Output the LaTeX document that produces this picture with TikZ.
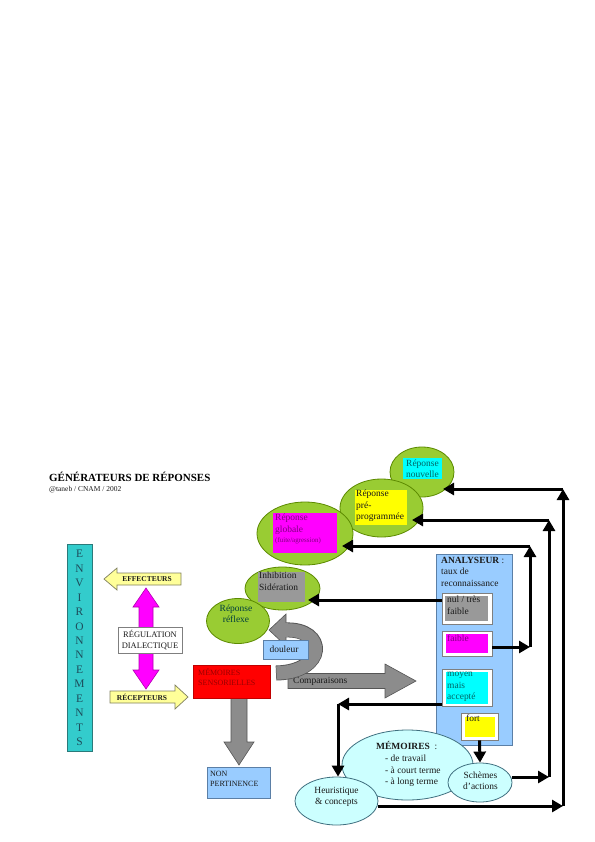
\documentclass[tikz,border=0pt]{standalone}
\usepackage{fontspec}
\setmainfont{Liberation Serif}
\usetikzlibrary{shapes.geometric,arrows.meta}
\definecolor{greenfill}{HTML}{99CC33}
\definecolor{greenborder}{HTML}{5C8A00}
\definecolor{lblue}{HTML}{99CCFF}
\definecolor{lblueborder}{HTML}{5B7FA6}
\definecolor{envfill}{HTML}{33CCCC}
\definecolor{envborder}{HTML}{2A7A7A}
\definecolor{envtext}{HTML}{1D4D5C}
\definecolor{yarrow}{HTML}{FFFF99}
\definecolor{yarrowborder}{HTML}{808060}
\definecolor{magentaf}{HTML}{FF00FF}
\definecolor{magentab}{HTML}{B000B0}
\definecolor{redf}{HTML}{FF0000}
\definecolor{redb}{HTML}{C00000}
\definecolor{redtext}{HTML}{990000}
\definecolor{garrow}{HTML}{8C8C8C}
\definecolor{garrowb}{HTML}{555555}
\definecolor{memfill}{HTML}{CCFFFF}
\definecolor{memborder}{HTML}{3F6F7F}
\definecolor{ginner}{HTML}{999999}
\definecolor{cyanf}{HTML}{00FFFF}
\definecolor{yellowf}{HTML}{FFFF00}
\definecolor{purpletext}{HTML}{800080}
\definecolor{tealtext}{HTML}{006666}
\definecolor{darktext}{HTML}{1A1A1A}
\definecolor{boxborder}{HTML}{7F7F7F}
\begin{document}
\begin{tikzpicture}[x=1bp,y=-1bp,
  txt/.style={inner sep=0pt, align=left, text=darktext, font=\fontsize{9.5}{11.5}\selectfont},
  ctxt/.style={txt, align=center},
  caps/.style={inner sep=0pt, align=left, font=\fontsize{8.5}{10.5}\selectfont},
  greenell/.style={ellipse, draw=greenborder, fill=greenfill, line width=0.8bp, inner sep=0pt},
  memell/.style={ellipse, draw=memborder, fill=memfill, line width=0.8bp, inner sep=0pt},
  panel/.style={rectangle, draw=lblueborder, fill=lblue, line width=0.8bp, inner sep=0pt},
  wbox/.style={rectangle, draw=boxborder, fill=white, line width=0.8bp, inner sep=0pt},
  inner/.style={rectangle, inner sep=0pt},
  conn/.style={line width=3bp, draw=black, -{Triangle[length=11bp,width=12bp]}},
  plain/.style={line width=3bp, draw=black}
]
\useasboundingbox (0,0) rectangle (595,842);
\fill[white] (0,0) rectangle (595,842);

% Title
\node[anchor=west, inner sep=0pt, font=\bfseries\fontsize{11}{13}\selectfont] (title) at (49,477) {GÉNÉRATEURS DE RÉPONSES};
\node[anchor=west, inner sep=0pt, text=darktext, font=\fontsize{7.5}{8}\selectfont] (sub) at (49,490) {@taneb / CNAM / 2002};

% Environnements
\node[rectangle, draw=envborder, fill=envfill, line width=0.8bp, minimum width=25bp, minimum height=207bp, inner sep=0pt] (env) at (79.5,647.5) {};
\node[inner sep=0pt, align=center, text=envtext, font=\fontsize{11.5}{14.5}\selectfont] (envtxt) at (79.5,648) {E\\N\\V\\I\\R\\O\\N\\N\\E\\M\\E\\N\\T\\S};

% Effecteurs arrow (left)
\draw[fill=yarrow, draw=yarrowborder, line width=0.7bp] (181,573) -- (117,573) -- (117,568) -- (104,579) -- (117,590) -- (117,585) -- (181,585) -- cycle;
\node[inner sep=0pt, font=\bfseries\fontsize{7.5}{9}\selectfont, text=darktext] (eff) at (147,579) {EFFECTEURS};

% Recepteurs arrow (right)
\draw[fill=yarrow, draw=yarrowborder, line width=0.7bp] (110,691) -- (175,691) -- (175,685) -- (188,697) -- (175,709) -- (175,703) -- (110,703) -- cycle;
\node[inner sep=0pt, font=\bfseries\fontsize{7.5}{9}\selectfont, text=darktext] (rec) at (142,697) {RÉCEPTEURS};

% Magenta double arrow
\draw[fill=magentaf, draw=magentab, line width=0.6bp] (146,588) -- (159,607) -- (153,607) -- (153,670) -- (159,670) -- (146,689) -- (133,670) -- (139,670) -- (139,607) -- (133,607) -- cycle;
\node[wbox, minimum width=64bp, minimum height=26bp] (regbox) at (150,640) {};
\node[caps, align=center, text=darktext] (reg) at (150,640) {RÉGULATION\\DIALECTIQUE};

% Gray down arrow
\draw[fill=garrow, draw=garrowb, line width=0.6bp] (231,698) -- (247,698) -- (247,742) -- (254,742) -- (239,765) -- (224,742) -- (231,742) -- cycle;

% Memoires sensorielles
\node[rectangle, fill=redf, draw=redb, line width=0.6bp, minimum width=77bp, minimum height=33bp, inner sep=0pt] (memsens) at (231.5,681.5) {};
\node[caps, anchor=north west, text=redtext, font=\fontsize{8}{10.5}\selectfont] (memsenstxt) at (198,668) {MÉMOIRES\\SENSORIELLES};

% Non pertinence
\node[rectangle, fill=lblue, draw=lblueborder, line width=0.7bp, minimum width=63bp, minimum height=31bp, inner sep=0pt] (nonp) at (238.5,782.5) {};
\node[caps, anchor=north west, text=darktext, font=\fontsize{8}{10}\selectfont] (nonptxt) at (210,771) {NON\\PERTINENCE};

% Comparaisons arrow
\draw[fill=garrow, draw=garrowb, line width=0.6bp] (288,673.5) -- (385,673.5) -- (385,664) -- (416,681) -- (385,698) -- (385,688.5) -- (288,688.5) -- cycle;
\node[txt, anchor=west] (comp) at (293,681) {Comparaisons};

% Green ellipses
\node[greenell, minimum width=64bp, minimum height=50bp] (nouvelle) at (422,472) {};
\node[inner, fill=cyanf, minimum width=39bp, minimum height=21bp] (nouvr) at (422.5,468.5) {};
\node[ctxt, text=tealtext] (nouvtxt) at (422.5,468.5) {Réponse\\nouvelle};

\node[greenell, minimum width=83bp, minimum height=58bp] (prepro) at (381.5,508) {};
\node[inner, fill=yellowf, minimum width=52bp, minimum height=35bp] (prepror) at (381,507.5) {};
\node[txt, anchor=north west] (preprotxt) at (356,490) {Réponse\\pré-\\programmée};

\node[greenell, minimum width=96bp, minimum height=63bp] (globale) at (305,533.5) {};
\node[inner, fill=magentaf, minimum width=64bp, minimum height=40bp] (glober) at (305,533) {};
\node[txt, anchor=north west, text=purpletext] (globtxt) at (275,514) {Réponse\\globale};
\node[txt, anchor=north west, text=purpletext, font=\fontsize{7}{8}\selectfont] (globtxt2) at (275,537) {(fuite/agression)};

\node[greenell, minimum width=75bp, minimum height=43bp] (inhib) at (282.5,588.5) {};
\node[inner, fill=ginner, minimum width=47bp, minimum height=30bp] (inhibr) at (281.5,587) {};
\node[txt, anchor=north west] (inhibtxt) at (259,572) {Inhibition\\Sidération};

\node[greenell, minimum width=63bp, minimum height=45bp] (reflexe) at (238,621) {};
\node[ctxt, text=tealtext!60!black] (reflexetxt) at (236,614) {Réponse\\réflexe};

% Curved gray arrow (douleur)
\draw[garrowb, line width=15bp] (276,673) .. controls (327,672) and (327,628) .. (285,630);
\draw[garrow, line width=13.4bp] (276.5,673) .. controls (327,672) and (327,628) .. (284,630);
\draw[fill=garrow, draw=garrowb, line width=0.6bp] (286,614) -- (269,630) -- (286,646) -- cycle;
\fill[garrow] (283.5,623.4) rectangle (287.5,636.6);

\node[rectangle, fill=lblue, draw=lblueborder, line width=0.7bp, minimum width=45bp, minimum height=19bp, inner sep=0pt] (douleur) at (285.5,649.5) {};
\node[txt] (douleurtxt) at (284,649) {douleur};

% Analyseur panel
\node[panel, minimum width=76bp, minimum height=191bp] (analyseur) at (474,649.5) {};
\node[txt, anchor=north west] (analtxt) at (441,557) {\textbf{ANALYSEUR} :\\taux de\\reconnaissance};

\node[wbox, minimum width=50bp, minimum height=31bp] (nul) at (467,608.5) {};
\node[inner, fill=ginner, minimum width=43bp, minimum height=25bp] (nulr) at (466.5,608.5) {};
\node[txt, anchor=north west, text=darktext] (nultxt) at (447,596) {nul / très\\faible};

\node[wbox, minimum width=50bp, minimum height=25bp] (faible) at (467,643.5) {};
\node[inner, fill=magentaf, minimum width=42bp, minimum height=19bp] (faibler) at (467,643.5) {};
\node[txt, anchor=north west, text=purpletext] (faibletxt) at (447,635) {faible};

\node[wbox, minimum width=50bp, minimum height=37bp] (moyen) at (467,687.5) {};
\node[inner, fill=cyanf, minimum width=42bp, minimum height=32bp] (moyenr) at (467,688) {};
\node[txt, anchor=north west, text=tealtext] (moyentxt) at (447,672) {moyen\\mais\\accepté};

\node[wbox, minimum width=37bp, minimum height=27bp] (fort) at (479.5,726.5) {};
\node[inner, fill=yellowf, minimum width=30bp, minimum height=20bp] (fortr) at (480,727) {};
\node[txt, anchor=north west, text=darktext] (forttxt) at (466,715) {fort};

% Memoires ellipses
\node[memell, minimum width=131bp, minimum height=70bp] (mem) at (407.5,765) {};
\node[txt, anchor=north west] (memtxt) at (376,741) {\textbf{MÉMOIRES} \ :};
\node[txt, anchor=north west] (memtxt2) at (385,755) {- de travail\\- à court terme\\- à long terme};

\node[memell, minimum width=83bp, minimum height=48bp] (heur) at (336.5,801) {};
\node[ctxt] (heurtxt) at (336.5,797) {Heuristique\\\& concepts};

\node[memell, minimum width=64bp, minimum height=39bp] (schemes) at (480,782.5) {};
\node[ctxt] (schtxt) at (480.5,781) {Schèmes\\d’actions};

% Connector corner coordinates
\coordinate (t1) at (308,600);
\coordinate (c1) at (530,647);
\coordinate (c2) at (530,546);
\coordinate (t2) at (342,546);
\coordinate (c3) at (549,777);
\coordinate (c4) at (549,520);
\coordinate (t3) at (412,520);
\coordinate (c5) at (563,806);
\coordinate (c6) at (563,489);
\coordinate (t4) at (443,489);
\coordinate (c7) at (338,704);

% Connectors
\draw[conn] (nul.west |- t1) -- (t1);
\draw[conn] (faible.east |- c1) -- (c1);
\draw[conn] (c1) -- (c2);
\draw[conn] (c2) -- (t2);
\draw[conn] (schemes.east |- c3) -- (c3);
\draw[conn] (c3) -- (c4);
\draw[conn] (c4) -- (t3);
\draw[conn] (heur.east |- c5) -- (c5);
\draw[conn] (c5) -- (c6);
\draw[conn] (c6) -- (t4);
\draw[conn] (moyen.west |- c7) -- (c7);
\draw[conn] (c7) -- (c7 |- heur.north);
\draw[conn] (fort.south) -- (schemes.north);
\end{tikzpicture}
\end{document}
